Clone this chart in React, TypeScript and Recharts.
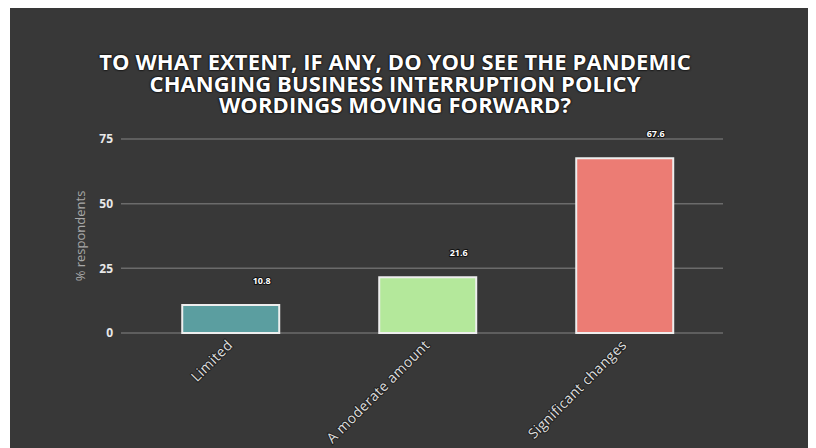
import { BarChart, Bar, XAxis, YAxis, CartesianGrid, Cell, LabelList } from "recharts"

const categories = ["Limited", "A moderate amount", "Significant changes"]
const values = [10.8, 21.6, 67.6]
const colors = ["#5b9ea0", "#b4e89b", "#ec7c74"]
const yTicks = [0, 25, 50, 75]

const data = categories.map((name, i) => ({ name, value: values[i] }))

const font = "'Open Sans', sans-serif"

const XTick = (props: any) => {
  const { x, y, payload } = props
  const tx = x + 3
  const ty = y + 5
  return (
    <text
      x={tx}
      y={ty}
      textAnchor="end"
      transform={`rotate(-45, ${tx}, ${ty})`}
      fontFamily={font}
      fontSize={14}
      letterSpacing={0.4}
      fill="#dddddd"
      stroke="#222"
      strokeWidth={2}
      paintOrder="stroke"
    >
      {payload.value}
    </text>
  )
}

const ValueLabel = (props: any) => {
  const { x, y, width, value } = props
  return (
    <text
      x={x + width / 2 + 31}
      y={y - 21}
      textAnchor="middle"
      fontFamily={font}
      fontSize={9}
      fontWeight="bold"
      fill="#ffffff"
      stroke="#111"
      strokeWidth={2}
      paintOrder="stroke"
    >
      {value}
    </text>
  )
}

export default function App() {
  return (
    <div style={{ position: "relative", width: 801, height: 440, marginLeft: 2, background: "#383838" }}>
      <div
        style={{
          position: "absolute",
          left: 0,
          top: 43,
          width: 770,
          textAlign: "center",
          fontFamily: font,
          fontWeight: "bold",
          fontSize: 22,
          letterSpacing: 0.1,
          lineHeight: "21.5px",
          color: "#ffffff",
          textShadow: "0 0 2px #000, 0 0 2px #000",
        }}
      >
        TO WHAT EXTENT, IF ANY, DO YOU SEE THE PANDEMIC
        <br />
        CHANGING BUSINESS INTERRUPTION POLICY
        <br />
        WORDINGS MOVING FORWARD?
      </div>
      <div
        style={{
          position: "absolute",
          left: 70,
          top: 228,
          transform: "translate(-50%, -50%) rotate(-90deg)",
          fontFamily: font,
          fontSize: 13,
          color: "#a8a8a8",
          whiteSpace: "nowrap",
        }}
      >
        % respondents
      </div>
      <BarChart
        width={801}
        height={440}
        data={data}
        margin={{ top: 131, right: 88, bottom: 5, left: 51 }}
        barCategoryGap="25.5%"
      >
        <CartesianGrid vertical={false} stroke="#6b6b6b" strokeWidth={1.5} />
        <XAxis
          dataKey="name"
          height={110}
          axisLine={false}
          tickLine={false}
          interval={0}
          padding={{ left: 11, right: 0 }}
          tick={<XTick />}
        />
        <YAxis
          width={60}
          domain={[0, 75]}
          ticks={yTicks}
          axisLine={false}
          tickLine={false}
          tick={{ fill: "#e8e8e8", fontSize: 12, fontWeight: "bold", fontFamily: font }}
        />
        <Bar dataKey="value" stroke="#eeeeee" strokeWidth={2} isAnimationActive={false}>
          {data.map((d, i) => (
            <Cell key={d.name} fill={colors[i]} />
          ))}
          <LabelList dataKey="value" content={<ValueLabel />} />
        </Bar>
      </BarChart>
    </div>
  )
}
